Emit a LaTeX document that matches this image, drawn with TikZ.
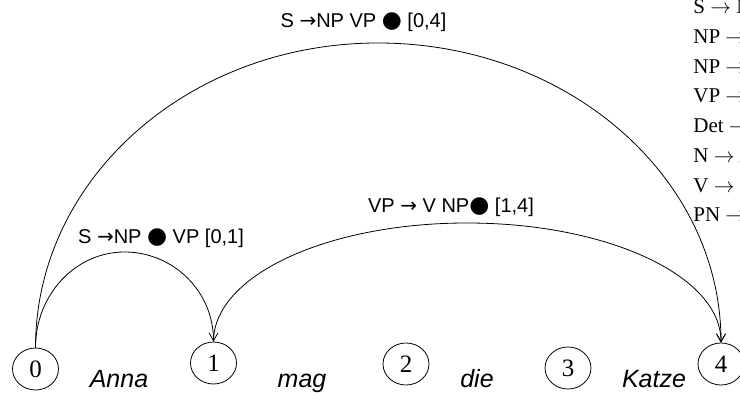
\documentclass[tikz,border=0pt]{standalone}
\usepackage{fontspec}
\setmainfont{Liberation Serif}
\setsansfont{Liberation Sans}
\newfontfamily\symfont{DejaVu Sans}
\newcommand{\itemarrow}{{\symfont →}}
\newcommand{\itemdot}{{\symfont\fontsize{23}{23}\selectfont ●}}
\usetikzlibrary{positioning, shapes.geometric, arrows.meta}

\begin{document}
\begin{tikzpicture}[x=1pt, y=-1pt, line width=0.8pt, >={Straight Barb[length=8pt, width=9pt]},
        state/.style={draw, ellipse, minimum width=46pt, minimum height=42pt, inner sep=0pt,
            font=\fontsize{25}{25}\selectfont},
        word/.style={anchor=base, font=\sffamily\itshape\fontsize{25}{25}\selectfont},
        edgelabel/.style={font=\sffamily\fontsize{20}{22}\selectfont}]
        \useasboundingbox (0,0) rectangle (740,393);
        \clip (0,0) rectangle (740,393);

        % chart positions
        \node[state] (s0) at (35.5,369) {0};
        \node[state] (s1) at (213.5,363) {1};
        \node[state] (s2) at (406,364) {2};
        \node[state] (s3) at (568,368) {3};
        \node[state] (s4) at (721,364) {4};

        % words
        \node[word] (anna) at (119,387) {Anna};
        \node[word] (mag) at (302,387) {mag};
        \node[word] (die) at (477,387) {die};
        \node[word] (katze) at (654,387) {Katze};

        % grammar
        \node[anchor=north west, inner sep=0pt, align=left,
            font=\fontsize{21}{29.7}\selectfont] (rules) at (693,-0.5) {
            S $\rightarrow$ NP VP \\
            NP $\rightarrow$ Det N \\
            NP $\rightarrow$ PN \\
            VP $\rightarrow$ V NP \\
            Det $\rightarrow$ \textit{die} \\
            N $\rightarrow$ \textit{Katze} \\
            V $\rightarrow$ \textit{mag} \\
            PN $\rightarrow$ \textit{Anna}
        };

        % edges
        \coordinate (topA) at (378,43);
        \coordinate (topB) at (124.5,252);
        \coordinate (topC) at (467,223);

        \draw[->] (s0.north) .. controls +(0,-169) and +(-189,0) .. (topA)
            .. controls +(189,0) and +(0,-166) .. (s4.north);
        \draw[->] (s0.north) .. controls +(0,-53) and +(-49,0) .. (topB)
            .. controls +(49,0) and +(0,-50) .. (s1.north);
        \draw[->] (s1.north) .. controls +(0,-66) and +(-140,0) .. (topC)
            .. controls +(140,0) and +(0,-67) .. (s4.north);

        \node[edgelabel] (labA) at (363.5,22) {S \itemarrow NP VP \itemdot{} [0,4]};
        \node[edgelabel] (labB) at (161,238) {S \itemarrow NP \itemdot{} VP [0,1]};
        \node[edgelabel] (labC) at (451,207) {VP \itemarrow{} V NP\itemdot{} [1,4]};
    \end{tikzpicture}
\end{document}
